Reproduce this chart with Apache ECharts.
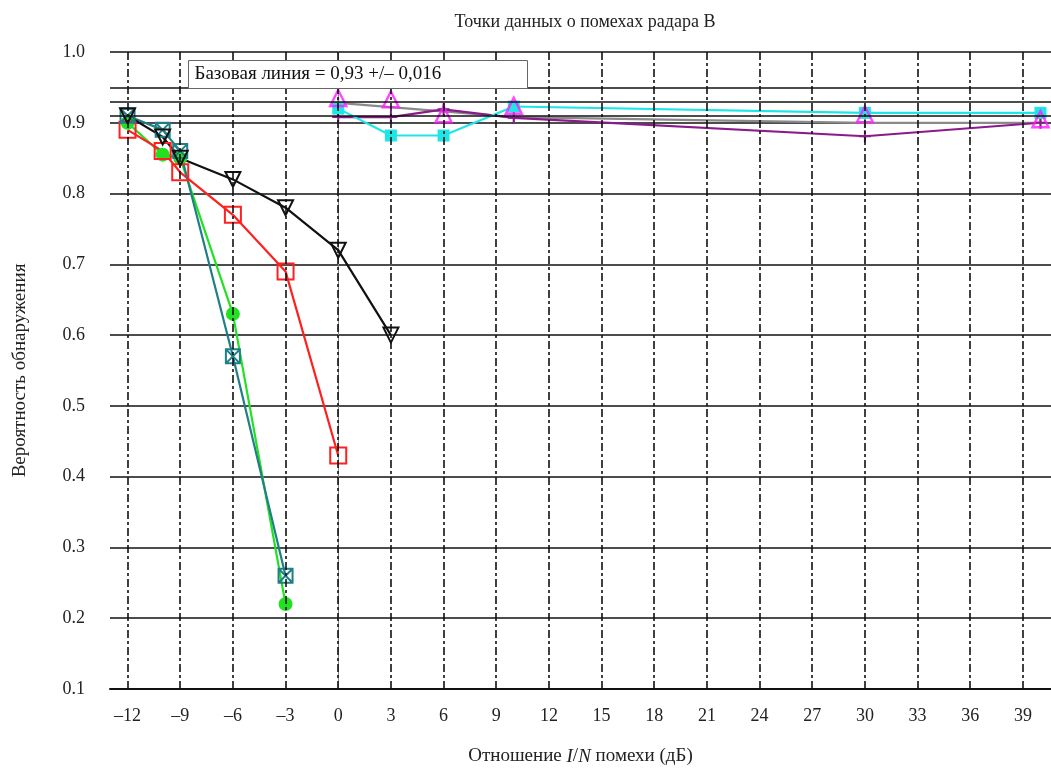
<!DOCTYPE html>
<html><head><meta charset="utf-8">
<script src="https://cdn.jsdelivr.net/npm/echarts@6/dist/echarts.min.js"></script>
<style>html,body{margin:0;padding:0;background:#fff}#c{width:1051px;height:771px}</style>
</head><body><div id="c"></div>
<script>
// ---- data ----
const xTicks = [-12,-9,-6,-3,0,3,6,9,12,15,18,21,24,27,30,33,36,39];
const baselineLines = [0.946, 0.93, 0.914];
const baselineText = 'Базовая линия = 0,93 +/– 0,016';

const tealX = [-12,-10,-9,-6,-3];
const tealY = [0.91,0.89,0.86,0.57,0.26];
const greenX = [-12,-10,-9,-6,-3];
const greenY = [0.90,0.855,0.85,0.63,0.22];
const redX = [-12,-10,-9,-6,-3,0];
const redY = [0.89,0.86,0.83,0.77,0.69,0.43];
const blackX = [-12,-10,-9,-6,-3,0,3];
const blackY = [0.91,0.88,0.85,0.82,0.78,0.72,0.60];
const cyanX = [0,3,6,10,30,40];
const cyanY = [0.92,0.882,0.882,0.923,0.914,0.914];
const magentaX = [0,3,6,10,30,40];
const magentaY = [0.935,0.933,0.912,0.924,0.912,0.905];
const greyX = [0,10,30,40];
const greyY = [0.928,0.908,0.90,0.90];
const purpleX = [0,3,6,10,30,40];
const purpleY = [0.908,0.908,0.919,0.907,0.881,0.90];

const title = 'Точки данных о помехах радара B';
const yName = 'Вероятность обнаружения';

const zip = (xs, ys) => xs.map((x, i) => [x, ys[i]]);
const FONT = 'Liberation Serif';
const fmtX = v => (v < 0 ? '–' + Math.abs(v) : String(v));

const chart = echarts.init(document.getElementById('c'), null, {renderer: 'canvas'});

function lineSeries(name, xs, ys, color, symbol, size, extra) {
  return Object.assign({
    name, type: 'line', data: zip(xs, ys), z: 3,
    symbol, symbolSize: size, showSymbol: true,
    lineStyle: {color, width: 2.2},
    itemStyle: {color: 'rgba(0,0,0,0)', borderColor: color, borderWidth: 2},
    animation: false
  }, extra || {});
}

const boxX = 'path://M0 0H10V10H0Z M0 0L10 10 M10 0L0 10';
const plus = 'path://M5 0V10 M0 5H10';

chart.setOption({
  animation: false,
  backgroundColor: '#fff',
  textStyle: {fontFamily: FONT},
  title: {
    text: title, left: 580, top: 8, textAlign: 'center',
    textStyle: {fontFamily: FONT, fontWeight: 'normal', fontSize: 18, color: '#222'}
  },
  grid: {left: 110, right: 0, top: 52, bottom: 77},
  xAxis: {
    type: 'value', min: -13, max: 40.6,
    name: '{n|Отношение }{i|I}{n|/}{i|N}{n| помехи (дБ)}',
    nameLocation: 'middle', nameGap: 58,
    nameTextStyle: {
      rich: {
        n: {fontFamily: FONT, fontSize: 19, color: '#222'},
        i: {fontFamily: FONT, fontSize: 19, color: '#222', fontStyle: 'italic'}
      }
    },
    axisLine: {show: true, onZero: false, lineStyle: {color: '#111', width: 2}},
    axisTick: {show: false, customValues: xTicks},
    axisLabel: {customValues: xTicks, formatter: fmtX, margin: 18,
      fontFamily: FONT, fontSize: 18, color: '#222'},
    splitLine: {show: false}
  },
  yAxis: {
    type: 'value', min: 0.1, max: 1.0, interval: 0.1,
    name: yName, nameLocation: 'middle', nameGap: 80, nameRotate: 90,
    nameTextStyle: {fontFamily: FONT, fontSize: 19, color: '#222'},
    axisLine: {show: true, lineStyle: {color: '#888', width: 1}},
    axisTick: {show: false},
    axisLabel: {formatter: v => v.toFixed(1), margin: 25,
      fontFamily: FONT, fontSize: 18, color: '#222'},
    splitLine: {show: true, lineStyle: {color: '#111', width: 1.6}}
  },
  graphic: [{
    type: 'group', left: 188, top: 60, z: 100, zlevel: 1,
    children: [
      {type: 'rect', z: 100, shape: {x: 0, y: 0, width: 339, height: 28},
        style: {fill: '#fff', stroke: '#666', lineWidth: 1}},
      {type: 'text', z: 101, x: 6, y: 4,
        style: {text: baselineText, font: '19px "Liberation Serif"', fill: '#111'}}
    ]
  }],
  series: [
    {
      type: 'line', data: [], z: 1, silent: true,
      markLine: {
        silent: true, symbol: 'none', animation: false,
        label: {show: false},
        data: xTicks.map(v => ({xAxis: v, lineStyle: {color: '#111', width: 1.6, type: [8, 3, 3, 3]}}))
          .concat(baselineLines.map(v => ({yAxis: v, lineStyle: {color: '#111', width: 1.6, type: 'solid'}})))
      }
    },
    lineSeries('grey', greyX, greyY, '#8a8a8a', plus, 10),
    lineSeries('purple', purpleX, purpleY, '#8b1a8b', plus, 12),
    lineSeries('cyan', cyanX, cyanY, '#1ee6e6', 'rect', 12,
      {itemStyle: {color: '#1ee6e6', borderColor: '#1ee6e6', borderWidth: 0}}),
    {
      name: 'magenta', type: 'scatter', data: zip(magentaX, magentaY), z: 4,
      symbol: 'triangle', symbolSize: [16, 16],
      itemStyle: {color: 'rgba(0,0,0,0)', borderColor: '#ff1aff', borderWidth: 2.4}
    },
    lineSeries('green', greenX, greenY, '#22e022', 'circle', 14,
      {itemStyle: {color: '#22e022', borderColor: '#22e022', borderWidth: 0}}),
    lineSeries('red', redX, redY, '#ff2020', 'rect', 16),
    lineSeries('teal', tealX, tealY, '#1f7f86', boxX, 14),
    lineSeries('black', blackX, blackY, '#111', 'triangle', 15, {symbolRotate: 180})
  ]
});
</script>
</body></html>
